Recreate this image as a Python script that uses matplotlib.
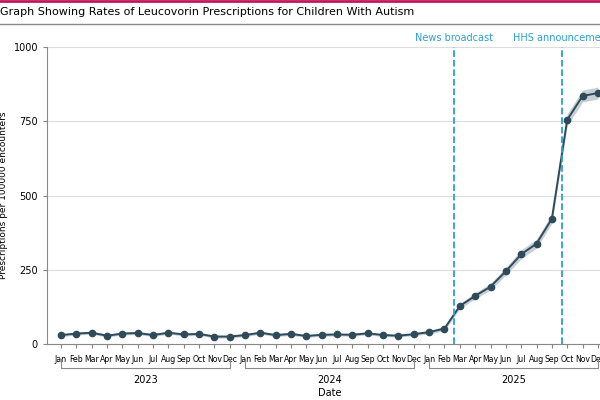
import numpy as np
import matplotlib.pyplot as plt
from matplotlib.lines import Line2D

months = ['Jan','Feb','Mar','Apr','May','Jun','Jul','Aug','Sep','Oct','Nov','Dec']
years = ['2023', '2024', '2025']
rate = [30,35,38,28,35,37,30,38,32,34,25,25,
        30,38,30,34,27,31,32,31,36,30,28,33,
        40,52,128,162,193,245,302,338,422,755,835,845]
ci = [5,5,5,5,5,5,5,5,5,5,5,5,
      5,5,5,5,5,5,5,5,5,5,5,5,
      6,7,9,10,11,13,15,15,16,20,20,20]
events = [(25.6, 'News broadcast'), (32.65, 'HHS announcement')]

rate = np.array(rate); ci = np.array(ci)
x = np.arange(len(rate))
dark = '#2e4b5a'
blue = '#2a9fd6'

fig = plt.figure(figsize=(6, 4), dpi=100)
ax = fig.add_axes([47/600, 56/400, 580/600, 297/400])
ax.fill_between(x, rate - ci, rate + ci, color='#b8c3ca', alpha=0.8, lw=0)
ax.plot(x, rate, color=dark, lw=1.4, marker='o', ms=4.5)
for ex, lab in events:
    ax.axvline(ex, color=blue, ls='--', lw=1.3, ymax=1.0, clip_on=False)
    ax.text(ex, 1015, lab, color=blue, ha='center', va='bottom', fontsize=7)
ax.set_ylim(0, 1000)
ax.set_xlim(-0.91, (627 - 61) / 15.34)
ax.set_yticks([0, 250, 500, 750, 1000])
ax.tick_params(axis='y', labelsize=7, length=3, color='#888888')
ax.set_xticks(x)
ax.set_xticklabels(months * 3, fontsize=5.6)
ax.tick_params(axis='x', length=3, color='#888888', pad=5)
ax.grid(axis='y', color='#dddddd', lw=0.8)
ax.set_axisbelow(True)
for s in ['top', 'right']:
    ax.spines[s].set_visible(False)
ax.spines['left'].set_color('#888888')
ax.spines['bottom'].set_color('#888888')
ax.set_ylabel('Prescriptions per 100000 encounters', fontsize=6.5, labelpad=4)

tr = ax.get_xaxis_transform()
for i, yr in enumerate(years):
    a, b = i * 12, i * 12 + 11
    ax.add_line(Line2D([a, a, b, b], [-0.05, -0.08, -0.08, -0.05], transform=tr,
                       color='#888888', lw=0.8, clip_on=False))
    ax.text((a + b) / 2, -0.12, yr, transform=tr, ha='center', va='center', fontsize=7)
ax.text(17.5, -0.165, 'Date', transform=tr, ha='center', va='center', fontsize=7)

fig.add_artist(Line2D([0, 1], [0.997, 0.997], color='#c2185b', lw=2))
fig.add_artist(Line2D([0, 1], [1 - 24/400] * 2, color='#888888', lw=1))
fig.text(0.0, 1 - 12/400, 'Graph Showing Rates of Leucovorin Prescriptions for Children With Autism',
         fontsize=8, va='center', ha='left')

fig.savefig('out.png', dpi=100)
